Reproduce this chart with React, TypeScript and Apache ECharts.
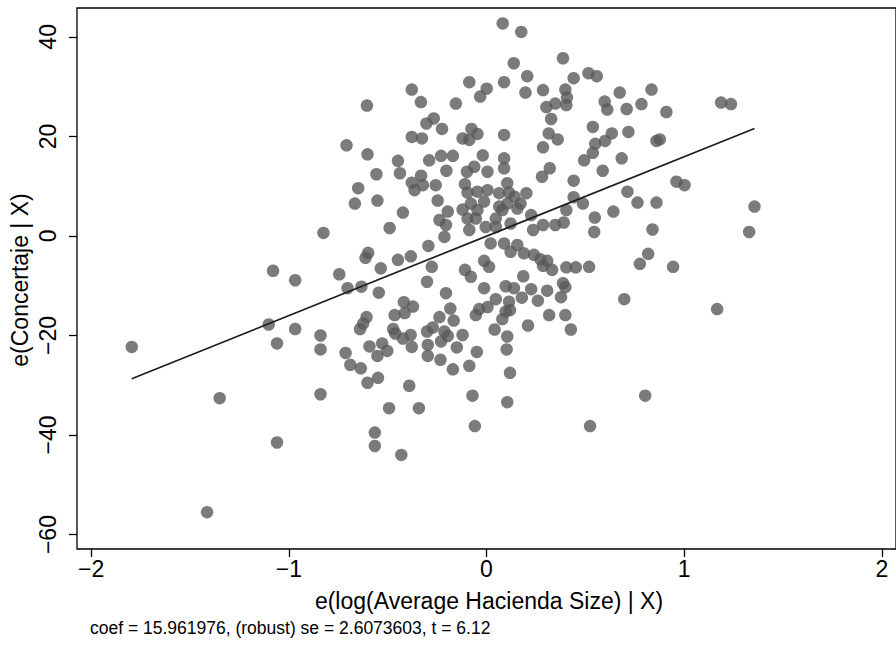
import React, { useEffect, useRef } from "react";
import * as echarts from "echarts";

// Residuals
const residX = [
  -1.795, -1.414, -1.35, -1.08, -1.06, -1.102, -1.06, -0.968, -0.968,
  -0.378, -0.332, -0.605, -0.378, -0.708, -0.602, -0.448, -0.438, -0.557, -0.378, -0.364,
  -0.649, -0.666, -0.552, -0.423, -0.49, -0.825, -0.599, -0.612, -0.448, -0.383,
  -0.535, -0.745, -0.703, -0.633, -0.545, -0.418, -0.372, -0.465, -0.414, -0.607,
  -0.624, -0.64, -0.84, -0.472, -0.462, -0.423, -0.384, -0.378, -0.84, -0.713,
  -0.592, -0.528, -0.502, -0.552, -0.689, -0.636, -0.602, -0.549, -0.391, -0.84,
  -0.493, -0.342, -0.565, -0.565, -0.431,
  0.082, 0.176, 0.138, -0.087, 0.089, 0.001, -0.032, -0.155, -0.267, -0.304,
  -0.225, -0.076, -0.046, -0.121, -0.087, -0.327, 0.089, -0.019, 0.089, 0.089,
  -0.29, -0.23, -0.17, -0.203, -0.099, -0.062, 0.005, -0.331, -0.322, -0.257,
  -0.109, 0.105, -0.096, -0.046, 0.005, 0.064, 0.114, -0.247, -0.121, -0.079,
  -0.046, -0.012, 0.064, 0.105, -0.196, -0.238, -0.205, -0.096, -0.054, 0.047,
  0.08, 0.047, -0.004, -0.087, -0.213, 0.122, -0.294, 0.021, 0.089, 0.122,
  -0.012, 0.013, -0.277, -0.109, -0.079, -0.301, -0.012, 0.097, 0.139, -0.205,
  0.047, 0.114, 0.005, -0.037, -0.183, -0.054, 0.097, 0.08, -0.238, -0.166,
  -0.272, -0.301, -0.213, -0.196, -0.23, -0.121, 0.041, 0.105, -0.297, -0.15,
  0.102, -0.049, -0.297, -0.233, -0.17, -0.087, 0.119, -0.071, 0.105, -0.059,
  0.387, 0.206, 0.441, 0.516, 0.558, 0.197, 0.286, 0.399, 0.407, 0.303,
  0.348, 0.404, 0.598, 0.611, 0.674, 0.327, 0.538, 0.315, 0.36, 0.286,
  0.55, 0.6, 0.634, 0.538, 0.494, 0.32, 0.281, 0.588, 0.441, 0.202,
  0.142, 0.172, 0.156, 0.441, 0.488, 0.404, 0.642, 0.226, 0.548, 0.236,
  0.286, 0.348, 0.391, 0.545, 0.156, 0.189, 0.24, 0.273, 0.307, 0.286,
  0.332, 0.404, 0.452, 0.519, 0.186, 0.387, 0.399, 0.226, 0.307, 0.179,
  0.26, 0.377, 0.119, 0.317, 0.399, 0.21, 0.427, 0.524,
  0.709, 0.784, 0.835, 0.91, 1.187, 1.237, 0.718, 0.86, 0.877, 0.684,
  0.961, 1.002, 0.713, 0.764, 0.86, 1.356, 0.84, 1.329, 0.818, 0.776,
  0.944, 0.697, 1.167, 0.803,
];
const residY = [
  -22.3, -55.5, -32.6, -7.0, -41.5, -17.8, -21.6, -8.9, -18.7,
  29.4, 26.9, 26.2, 19.9, 18.2, 16.4, 15.1, 12.6, 12.4, 10.7, 9.2,
  9.6, 6.5, 7.1, 4.7, 1.6, 0.6, -3.4, -4.4, -4.8, -4.1,
  -6.5, -7.7, -10.5, -10.2, -11.4, -13.3, -14.2, -15.9, -15.5, -16.3,
  -17.6, -18.7, -20.0, -18.7, -19.6, -20.6, -19.9, -22.3, -22.8, -23.5,
  -22.2, -21.6, -23.1, -24.1, -25.9, -26.6, -29.5, -28.5, -30.1, -31.8,
  -34.6, -34.6, -39.5, -42.2, -44.0,
  42.7, 41.0, 34.7, 30.9, 30.9, 29.6, 28.0, 26.6, 23.6, 22.6,
  21.5, 21.5, 20.5, 19.6, 19.3, 19.6, 20.3, 16.2, 15.6, 13.6,
  15.2, 16.1, 16.1, 13.1, 12.9, 13.9, 12.9, 12.1, 10.2, 10.2,
  10.4, 10.6, 8.7, 8.9, 9.2, 8.6, 8.7, 7.1, 5.3, 6.5,
  5.2, 6.9, 5.9, 6.5, 4.9, 3.2, 2.2, 3.5, 3.5, 3.5,
  5.2, 1.8, 1.8, 1.2, -0.2, 2.5, -2.0, -1.5, -1.5, -3.2,
  -5.0, -6.2, -6.2, -6.8, -8.2, -9.2, -10.5, -10.1, -10.5, -11.5,
  -12.7, -13.2, -14.3, -14.7, -14.6, -15.9, -15.2, -16.7, -16.3, -17.0,
  -18.4, -19.2, -19.2, -20.1, -21.2, -19.9, -18.8, -20.2, -21.9, -22.4,
  -22.8, -23.3, -24.1, -24.9, -26.8, -26.1, -27.5, -32.1, -33.4, -38.2,
  35.7, 32.1, 31.7, 32.7, 32.1, 28.8, 29.3, 29.4, 27.8, 25.9,
  26.6, 26.3, 27.0, 25.4, 28.8, 23.5, 21.9, 20.6, 19.4, 17.8,
  18.5, 19.1, 20.6, 16.7, 15.2, 13.6, 11.9, 13.1, 11.1, 8.6,
  7.9, 6.5, 5.5, 7.8, 6.5, 5.2, 4.9, 4.2, 3.7, 1.2,
  2.2, 2.2, 2.7, 0.8, -1.8, -3.5, -3.8, -4.7, -5.0, -6.0,
  -6.8, -6.3, -6.3, -6.2, -8.1, -9.5, -10.3, -10.7, -11.0, -12.4,
  -13.0, -12.3, -14.9, -15.9, -15.9, -18.0, -18.8, -38.2,
  25.5, 26.5, 29.4, 24.9, 26.8, 26.5, 20.9, 19.1, 19.4, 15.6,
  10.9, 10.2, 8.9, 6.7, 6.7, 5.9, 1.3, 0.8, -3.6, -5.6,
  -6.2, -12.7, -14.7, -32.1,
];

// Fitted line end points
const fitX = [-1.795, 1.356];
const fitY = [-28.7, 21.6];

const xTicks = [-2, -1, 0, 1, 2];
const yTicks = [-60, -40, -20, 0, 20, 40];

const xTitle = "e(log(Average Hacienda Size) | X)";
const yTitle = "e(Concertaje | X)";
const noteText = "coef = 15.961976, (robust) se = 2.6073603, t = 6.12";

const FONT = "'Liberation Sans', Arial, Helvetica, sans-serif";
const fmt = (v: number) => String(v).replace("-", "\u2212");

export default function App() {
  const ref = useRef<HTMLDivElement>(null);
  useEffect(() => {
    if (!ref.current) return;
    const chart = echarts.init(ref.current, null, { renderer: "svg" });
    const points = residX.map((x, i) => [x, residY[i]]);
    const fit = fitX.map((x, i) => [x, fitY[i]]);
    chart.setOption({
      animation: false,
      backgroundColor: "#ffffff",
      textStyle: { fontFamily: FONT },
      grid: {
        left: 77,
        top: 8,
        width: 824,
        height: 541,
        show: true,
        borderColor: "#000",
        borderWidth: 1.3,
        backgroundColor: "transparent",
      },
      xAxis: {
        type: "value",
        position: "bottom",
        min: -2.072,
        max: 2.072,
        axisLine: { show: false, onZero: false },
        splitLine: { show: false },
        axisTick: {
          show: true,
          inside: false,
          length: 8,
          lineStyle: { color: "#000", width: 1.3 },
          customValues: xTicks,
        },
        axisLabel: {
          customValues: xTicks,
          formatter: fmt,
          fontSize: 23,
          color: "#000",
          margin: 8,
          fontFamily: FONT,
        },
      },
      yAxis: {
        type: "value",
        position: "left",
        min: -62.9,
        max: 45.8,
        axisLine: { show: false, onZero: false },
        splitLine: { show: false },
        axisTick: {
          show: true,
          inside: false,
          length: 8,
          lineStyle: { color: "#000", width: 1.3 },
          customValues: yTicks,
        },
        axisLabel: {
          customValues: yTicks,
          formatter: fmt,
          fontSize: 23,
          color: "#000",
          margin: 18,
          rotate: 90,
          fontFamily: FONT,
        },
      },
      series: [
        {
          type: "scatter",
          data: points,
          symbol: "circle",
          symbolSize: 12.5,
          itemStyle: { color: "#5a5a5a" },
          z: 2,
        },
        {
          type: "line",
          data: fit,
          symbol: "none",
          lineStyle: { color: "#1e1e1e", width: 1.7 },
          z: 3,
        },
      ],
      graphic: [
        {
          type: "text",
          x: 489,
          y: 601,
          style: {
            text: xTitle,
            fontSize: 23,
            fontFamily: FONT,
            fill: "#000",
            align: "center",
            verticalAlign: "middle",
          },
        },
        {
          type: "text",
          x: 20,
          y: 280,
          rotation: Math.PI / 2,
          style: {
            text: yTitle,
            fontSize: 23,
            fontFamily: FONT,
            fill: "#000",
            align: "center",
            verticalAlign: "middle",
          },
        },
        {
          type: "text",
          x: 90,
          y: 628,
          style: {
            text: noteText,
            fontSize: 17.5,
            fontFamily: FONT,
            fill: "#000",
            align: "left",
            verticalAlign: "middle",
          },
        },
      ],
    });
    return () => chart.dispose();
  }, []);
  return (
    <div
      ref={ref}
      style={{ position: "fixed", left: 0, top: 0, width: 896, height: 646, background: "#fff" }}
    />
  );
}
